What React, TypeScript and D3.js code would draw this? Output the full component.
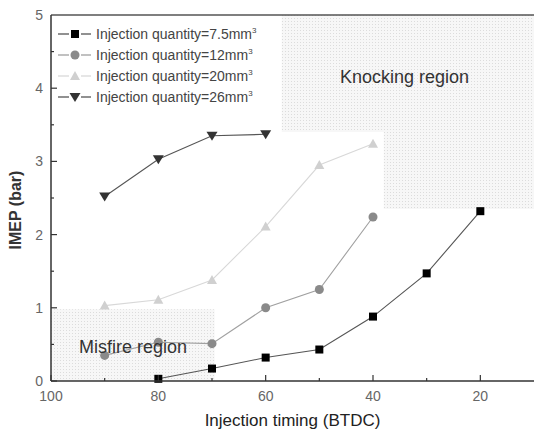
import React from "react";
import * as d3 from "d3";

const timings = [90, 80, 70, 60, 50, 40, 30, 20];
const q75 = [null, 0.03, 0.17, 0.32, 0.43, 0.88, 1.47, 2.32];
const q12 = [0.35, 0.53, 0.51, 1.0, 1.25, 2.24, null, null];
const q20 = [1.03, 1.11, 1.38, 2.11, 2.95, 3.24, null, null];
const q26 = [2.52, 3.03, 3.35, 3.37, null, null, null, null];
const seriesNames = ["Injection quantity=7.5mm", "Injection quantity=12mm", "Injection quantity=20mm", "Injection quantity=26mm"];
const xTicks = [100, 80, 60, 40, 20];
const yTicks = [0, 1, 2, 3, 4, 5];

const W = 534, H = 431;
const M = { left: 51, right: 534, top: 15, bottom: 381 };

export default function App() {
  const x = d3.scaleLinear().domain([100, 10]).range([M.left, M.right]);
  const y = d3.scaleLinear().domain([0, 5]).range([M.bottom, M.top]);
  const series = [
    { vals: q75, line: "#555", fill: "#000", shape: "square" },
    { vals: q12, line: "#a0a0a0", fill: "#8a8a8a", shape: "circle" },
    { vals: q20, line: "#d8d8d8", fill: "#d0d0d0", shape: "tri" },
    { vals: q26, line: "#555", fill: "#333", shape: "dtri" },
  ];
  const line = d3
    .line<[number, number | null]>()
    .defined((d) => d[1] != null)
    .x((d) => x(d[0]))
    .y((d) => y(d[1] as number));

  const marker = (shape: string, cx: number, cy: number, fill: string, key: any) => {
    if (shape === "square") return <rect key={key} x={cx - 4} y={cy - 4} width={8} height={8} fill={fill} />;
    if (shape === "circle") return <circle key={key} cx={cx} cy={cy} r={4.5} fill={fill} />;
    if (shape === "tri")
      return <path key={key} d={`M${cx},${cy - 5}L${cx + 5},${cy + 4}L${cx - 5},${cy + 4}Z`} fill={fill} />;
    return <path key={key} d={`M${cx},${cy + 5}L${cx + 5.5},${cy - 4}L${cx - 5.5},${cy - 4}Z`} fill={fill} />;
  };

  const minorX = d3.range(100, 10, -10);
  const minorY = d3.range(0, 5, 0.5);

  const knock: [number, number][] = [
    [57, 5], [10, 5], [10, 2.35], [38, 2.35], [38, 3.4], [57, 3.4],
  ];
  const knockPath = "M" + knock.map((p) => `${x(p[0])},${y(p[1])}`).join("L") + "Z";

  return (
    <svg width={W} height={H} style={{ display: "block", position: "absolute", left: 0, top: 0 }} fontFamily="Arial, 'Liberation Sans', sans-serif">
      <defs>
        <pattern id="dots" width="3" height="3" patternUnits="userSpaceOnUse">
          <rect width="3" height="3" fill="#f7f7f7" />
          <rect width="1" height="1" fill="#dcdcdc" />
        </pattern>
      </defs>
      <rect width={W} height={H} fill="#fff" />
      <path d={knockPath} fill="url(#dots)" />
      <rect x={x(100)} y={y(0.98)} width={x(69.5) - x(100)} height={y(0) - y(0.98)} fill="url(#dots)" />

      {series.map((s, i) => {
        const pts = timings.map((t, j) => [t, s.vals[j]] as [number, number | null]);
        return (
          <g key={i}>
            <path d={line(pts) || ""} fill="none" stroke={s.line} strokeWidth={1.1} />
            {pts.filter((p) => p[1] != null).map((p, j) => marker(s.shape, x(p[0]), y(p[1] as number), s.fill, j))}
          </g>
        );
      })}

      <line x1={M.left} x2={M.right} y1={M.top} y2={M.top} stroke="#555" strokeWidth={1.5} />
      <line x1={M.left} x2={M.left} y1={M.top} y2={M.bottom} stroke="#333" strokeWidth={1.5} />
      <line x1={M.left} x2={M.right} y1={M.bottom} y2={M.bottom} stroke="#333" strokeWidth={1.5} />
      {minorX.map((v) => (
        <line key={"mx" + v} x1={x(v)} x2={x(v)} y1={M.bottom} y2={M.bottom - (v % 20 === 0 ? 6 : 3)} stroke="#333" strokeWidth={1.2} />
      ))}
      {minorY.map((v) => (
        <line key={"my" + v} x1={M.left} x2={M.left + (v % 1 === 0 ? 6 : 3)} y1={y(v)} y2={y(v)} stroke="#333" strokeWidth={1.2} />
      ))}
      {xTicks.map((v) => (
        <text key={"xt" + v} x={x(v)} y={401} textAnchor="middle" fontSize={14} fill="#666">{v}</text>
      ))}
      {yTicks.map((v) => (
        <text key={"yt" + v} x={43} y={y(v) + 5} textAnchor="end" fontSize={14} fill="#666">{v}</text>
      ))}

      <text x={(M.left + M.right) / 2} y={426} textAnchor="middle" fontSize={17} fill="#222">Injection timing (BTDC)</text>
      <text transform={`translate(21,${210}) rotate(-90)`} textAnchor="middle" fontSize={16} fontWeight="bold" fill="#333">IMEP (bar)</text>

      <text x={79} y={353} fontSize={18} fill="#333">Misfire region</text>
      <text x={340} y={83} fontSize={18} fill="#333">Knocking region</text>

      {seriesNames.map((name, i) => {
        const s = series[i];
        const ly = 34 + i * 21;
        return (
          <g key={"lg" + i}>
            <line x1={58} x2={69} y1={ly} y2={ly} stroke={s.line} strokeWidth={1.3} />
            <line x1={81} x2={91} y1={ly} y2={ly} stroke={s.line} strokeWidth={1.3} />
            {marker(s.shape, 75, ly, s.fill, "m")}
            <text x={96} y={ly + 5} fontSize={14} fill="#444">
              {name}
              <tspan dy={-6} fontSize={8}>3</tspan>
            </text>
          </g>
        );
      })}
    </svg>
  );
}
